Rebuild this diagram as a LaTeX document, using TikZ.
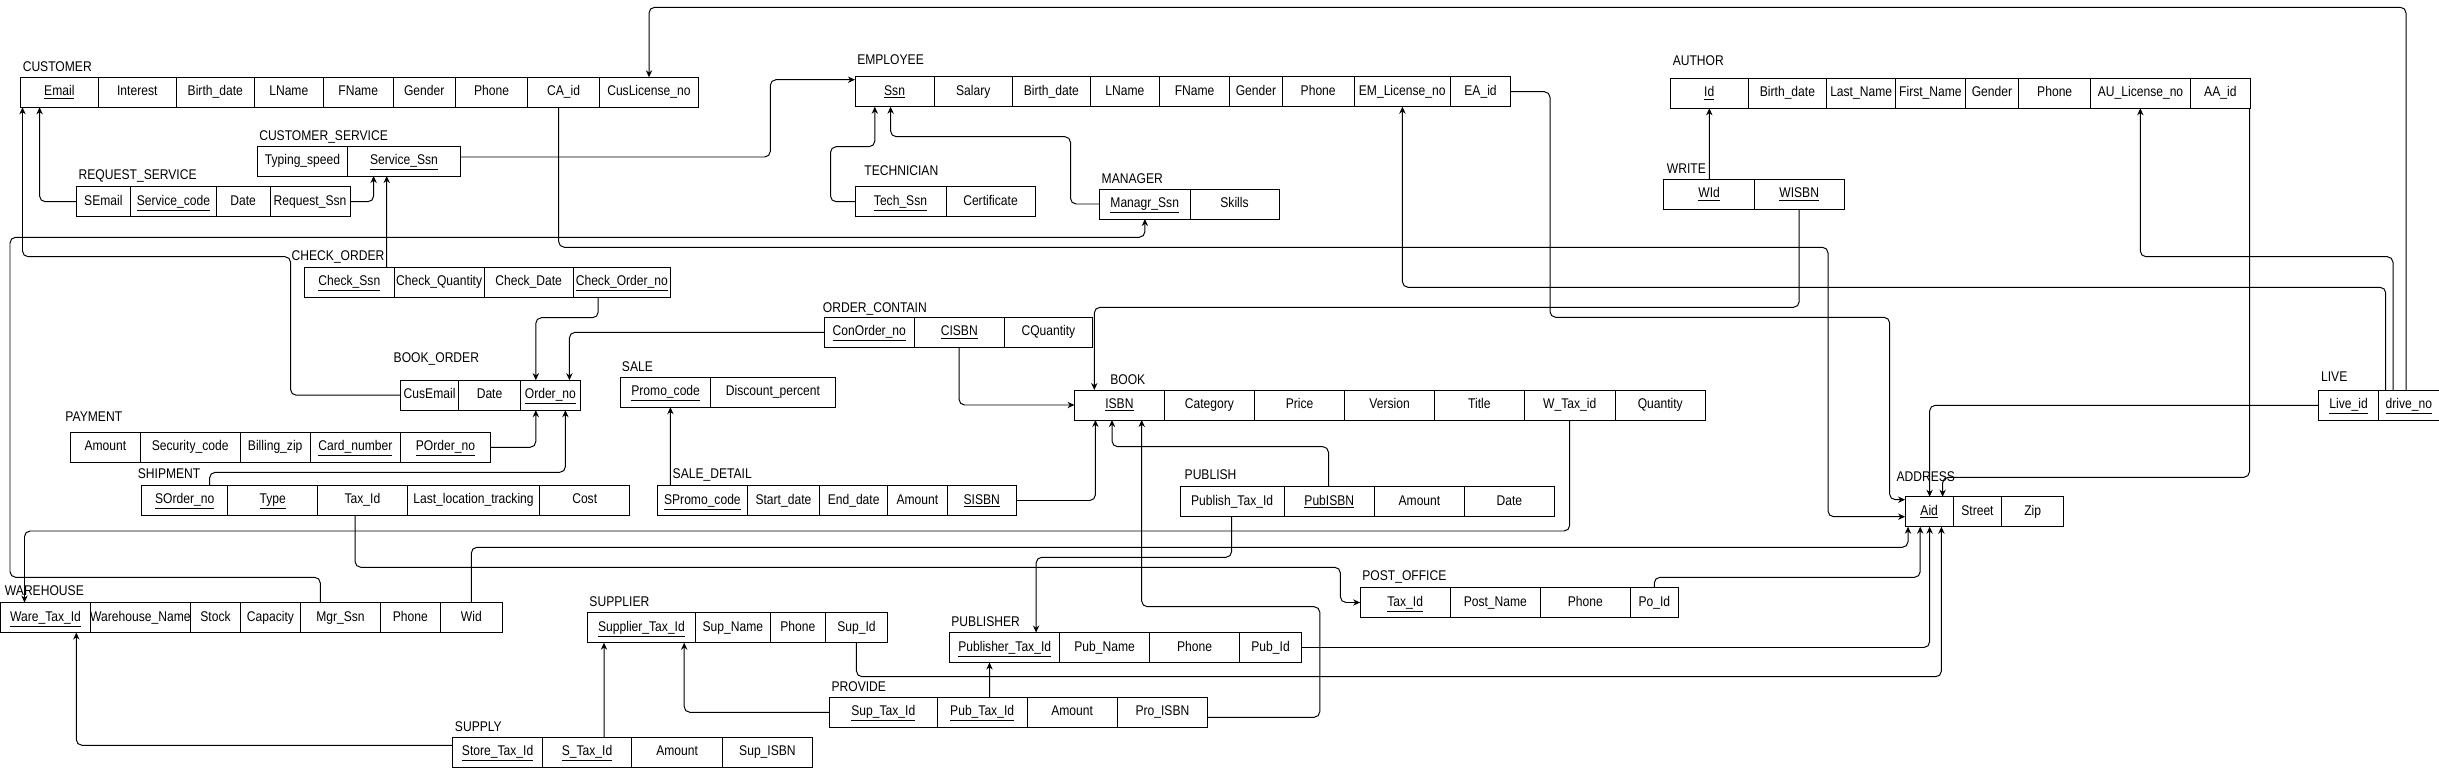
\documentclass[tikz,border=0pt]{standalone}
\usepackage{fontspec}
\setmainfont[FakeStretch=0.86]{Liberation Sans}
\usetikzlibrary{positioning,calc,arrows.meta}

\begin{document}
\begin{tikzpicture}[x=0.025cm, y=-0.025cm, node distance=0pt,
	cell/.style={draw, line width=0.7pt, outer sep=0pt, inner sep=0pt, minimum height=0.75cm, text height=7pt, text depth=2pt},
	cw/.style={minimum width=#1*0.025cm},
	tname/.style={anchor=west, inner sep=0pt},
	fk/.style={-{Stealth[length=5pt,width=4.5pt]}, line width=0.7pt, rounded corners=4pt}]
	\useasboundingbox (0,0) rectangle (2439,768);

	% CUSTOMER
	\node[tname] (tcustomer) at (22.5,66.7) {CUSTOMER};
	\node[cell, cw=77.5, anchor=west] (cemail) at (20.6,92.3) {\underline{Email}};
	\node[cell, cw=78.3, right=of cemail] (cinterest) {Interest};
	\node[cell, cw=77.8, right=of cinterest] (cbirth) {Birth\_date};
	\node[cell, cw=69.2, right=of cbirth] (clname) {LName};
	\node[cell, cw=69.6, right=of clname] (cfname) {FName};
	\node[cell, cw=62.5, right=of cfname] (cgender) {Gender};
	\node[cell, cw=72, right=of cgender] (cphone) {Phone};
	\node[cell, cw=72.3, right=of cphone] (caid) {CA\_id};
	\node[cell, cw=98.3, right=of caid] (ccuslic) {CusLicense\_no};

	% CUSTOMER_SERVICE
	\node[tname] (tcustserv) at (259,136.7) {CUSTOMER\_SERVICE};
	\node[cell, cw=90.2, anchor=west] (cstyping) at (257.4,161) {Typing\_speed};
	\node[cell, cw=112.7, right=of cstyping] (csssn) {\underline{Service\_Ssn}};

	% REQUEST_SERVICE
	\node[tname] (treq) at (78.3,175.7) {REQUEST\_SERVICE};
	\node[cell, cw=54.2, anchor=west] (rsemail) at (76.3,201.7) {SEmail};
	\node[cell, cw=85.8, right=of rsemail] (rscode) {\underline{Service\_code}};
	\node[cell, cw=53.8, right=of rscode] (rsdate) {Date};
	\node[cell, cw=79.9, right=of rsdate] (rsssn) {Request\_Ssn};

	% EMPLOYEE
	\node[tname] (temployee) at (857,60) {EMPLOYEE};
	\node[cell, cw=79.1, anchor=west] (essn) at (855,91.7) {\underline{Ssn}};
	\node[cell, cw=78.3, right=of essn] (esalary) {Salary};
	\node[cell, cw=77.9, right=of esalary] (ebirth) {Birth\_date};
	\node[cell, cw=69.2, right=of ebirth] (elname) {LName};
	\node[cell, cw=70.2, right=of elname] (efname) {FName};
	\node[cell, cw=52.5, right=of efname] (egender) {Gender};
	\node[cell, cw=72, right=of egender] (ephone) {Phone};
	\node[cell, cw=96.1, right=of ephone] (emlic) {EM\_License\_no};
	\node[cell, cw=60.5, right=of emlic] (eaid) {EA\_id};

	% TECHNICIAN
	\node[tname] (ttech) at (864.1,170.7) {TECHNICIAN};
	\node[cell, cw=91, anchor=west] (tssn) at (855,201.7) {\underline{Tech\_Ssn}};
	\node[cell, cw=89, right=of tssn] (tcert) {Certificate};

	% MANAGER
	\node[tname] (tmanager) at (1101.4,179) {MANAGER};
	\node[cell, cw=90.6, anchor=west] (mssn) at (1099.4,204) {\underline{Managr\_Ssn}};
	\node[cell, cw=89, right=of mssn] (mskills) {Skills};

	% AUTHOR
	\node[tname] (tauthor) at (1672.5,60.7) {AUTHOR};
	\node[cell, cw=78.3, anchor=west] (auid) at (1670.1,93.3) {\underline{Id}};
	\node[cell, cw=78.1, right=of auid] (abirth) {Birth\_date};
	\node[cell, cw=69.3, right=of abirth] (alast) {Last\_Name};
	\node[cell, cw=69.2, right=of alast] (afirst) {First\_Name};
	\node[cell, cw=53.8, right=of afirst] (agender) {Gender};
	\node[cell, cw=71.8, right=of agender] (aphone) {Phone};
	\node[cell, cw=99.8, right=of aphone] (aulic) {AU\_License\_no};
	\node[cell, cw=59.9, right=of aulic] (aaid) {AA\_id};

	% WRITE
	\node[tname] (twrite) at (1666.6,168.3) {WRITE};
	\node[cell, cw=90.6, anchor=west] (wwid) at (1663.8,194.3) {\underline{WId}};
	\node[cell, cw=89.6, right=of wwid] (wisbn) {\underline{WISBN}};

	% CHECK_ORDER
	\node[tname] (tcheck) at (291.4,256.7) {CHECK\_ORDER};
	\node[cell, cw=89.7, anchor=west] (kssn) at (304.5,282.3) {\underline{Check\_Ssn}};
	\node[cell, cw=89.8, right=of kssn] (kqty) {Check\_Quantity};
	\node[cell, cw=89.3, right=of kqty] (kdate) {Check\_Date};
	\node[cell, cw=97.1, right=of kdate] (korder) {\underline{Check\_Order\_no}};

	% ORDER_CONTAIN
	\node[tname] (tcontain) at (822.6,309.3) {ORDER\_CONTAIN};
	\node[cell, cw=90.2, anchor=west] (oorder) at (824.2,332.3) {\underline{ConOrder\_no}};
	\node[cell, cw=89.7, right=of oorder] (oisbn) {\underline{CISBN}};
	\node[cell, cw=88.6, right=of oisbn] (oqty) {CQuantity};

	% BOOK_ORDER
	\node[tname] (tbookorder) at (393.4,359) {BOOK\_ORDER};
	\node[cell, cw=58.2, anchor=west] (bcusemail) at (400.5,395.2) {CusEmail};
	\node[cell, cw=61.7, right=of bcusemail] (bdate) {Date};
	\node[cell, cw=60, right=of bdate] (borderno) {\underline{Order\_no}};

	% SALE
	\node[tname] (tsale) at (621.7,366.7) {SALE};
	\node[cell, cw=90.1, anchor=west] (spromo) at (620.6,392.2) {\underline{Promo\_code}};
	\node[cell, cw=124.6, right=of spromo] (sdisc) {Discount\_percent};

	% BOOK
	\node[tname] (tbook) at (1110,380) {BOOK};
	\node[cell, cw=89.8, anchor=west] (bkisbn) at (1074.5,405) {\underline{ISBN}};
	\node[cell, cw=90.3, right=of bkisbn] (bkcat) {Category};
	\node[cell, cw=90.1, right=of bkcat] (bkprice) {Price};
	\node[cell, cw=89.8, right=of bkprice] (bkversion) {Version};
	\node[cell, cw=89.7, right=of bkversion] (bktitle) {Title};
	\node[cell, cw=91, right=of bktitle] (bkwtax) {W\_Tax\_id};
	\node[cell, cw=90.1, right=of bkwtax] (bkqty) {Quantity};

	% PAYMENT
	\node[tname] (tpayment) at (65.2,416.7) {PAYMENT};
	\node[cell, cw=70, anchor=west] (pamount) at (70.4,447.3) {Amount};
	\node[cell, cw=99.6, right=of pamount] (psec) {Security\_code};
	\node[cell, cw=70.4, right=of psec] (pzip) {Billing\_zip};
	\node[cell, cw=90.1, right=of pzip] (pcard) {\underline{Card\_number}};
	\node[cell, cw=89.8, right=of pcard] (porder) {\underline{POrder\_no}};

	% SHIPMENT
	\node[tname] (tship) at (137.6,474) {SHIPMENT};
	\node[cell, cw=86.2, anchor=west] (shorder) at (141.6,500) {\underline{SOrder\_no}};
	\node[cell, cw=89.7, right=of shorder] (shtype) {\underline{Type}};
	\node[cell, cw=89.8, right=of shtype] (shtax) {Tax\_Id};
	\node[cell, cw=132.4, right=of shtax] (shtrack) {Last\_location\_tracking};
	\node[cell, cw=90, right=of shtrack] (shcost) {Cost};

	% SALE_DETAIL
	\node[tname] (tsaledetail) at (672.4,475) {SALE\_DETAIL};
	\node[cell, cw=89.4, anchor=west] (sdpromo) at (657.7,500.5) {\underline{SPromo\_code}};
	\node[cell, cw=72.7, right=of sdpromo] (sdstart) {Start\_date};
	\node[cell, cw=67.7, right=of sdstart] (sdend) {End\_date};
	\node[cell, cw=59.7, right=of sdend] (sdamount) {Amount};
	\node[cell, cw=69.2, right=of sdamount] (sdisbn) {\underline{SISBN}};

	% PUBLISH
	\node[tname] (tpublish) at (1184.4,475) {PUBLISH};
	\node[cell, cw=104.2, anchor=west] (plitax) at (1180,501.7) {Publish\_Tax\_Id};
	\node[cell, cw=90.2, right=of plitax] (plisbn) {\underline{PubISBN}};
	\node[cell, cw=90.1, right=of plisbn] (pliamount) {Amount};
	\node[cell, cw=89.8, right=of pliamount] (plidate) {Date};

	% LIVE
	\node[tname] (tlive) at (2320.8,376.7) {LIVE};
	\node[cell, cw=60.3, anchor=west] (lid) at (2318.4,405.3) {\underline{Live\_id}};
	\node[cell, cw=60.3, right=of lid] (ldrive) {\underline{drive\_no}};

	% ADDRESS
	\node[tname] (taddress) at (1896.2,476.7) {ADDRESS};
	\node[cell, cw=48.1, anchor=west] (adaid) at (1905.1,511.7) {\underline{Aid}};
	\node[cell, cw=48.5, right=of adaid] (adstreet) {Street};
	\node[cell, cw=62, right=of adstreet] (adzip) {Zip};

	% POST_OFFICE
	\node[tname] (tpost) at (1362.1,576.7) {POST\_OFFICE};
	\node[cell, cw=90.2, anchor=west] (potax) at (1360.1,602.5) {\underline{Tax\_Id}};
	\node[cell, cw=90.1, right=of potax] (poname) {Post\_Name};
	\node[cell, cw=89.8, right=of poname] (pophone) {Phone};
	\node[cell, cw=48.2, right=of pophone] (poid) {Po\_Id};

	% WAREHOUSE
	\node[tname] (twarehouse) at (4.7,590.7) {WAREHOUSE};
	\node[cell, cw=89.4, anchor=west] (htax) at (0.8,617.5) {\underline{Ware\_Tax\_Id}};
	\node[cell, cw=100.4, right=of htax] (hname) {Warehouse\_Name};
	\node[cell, cw=49.8, right=of hname] (hstock) {Stock};
	\node[cell, cw=60.1, right=of hstock] (hcap) {Capacity};
	\node[cell, cw=79.9, right=of hcap] (hmgr) {Mgr\_Ssn};
	\node[cell, cw=59.7, right=of hmgr] (hphone) {Phone};
	\node[cell, cw=62.5, right=of hphone] (hwid) {Wid};

	% SUPPLIER
	\node[tname] (tsupplier) at (589.2,601.7) {SUPPLIER};
	\node[cell, cw=107.7, anchor=west] (sutax) at (587.6,627.7) {\underline{Supplier\_Tax\_Id}};
	\node[cell, cw=75.1, right=of sutax] (suname) {Sup\_Name};
	\node[cell, cw=55, right=of suname] (suphone) {Phone};
	\node[cell, cw=62.1, right=of suphone] (suid) {Sup\_Id};

	% PUBLISHER
	\node[tname] (tpublisher) at (951.1,621.7) {PUBLISHER};
	\node[cell, cw=109.6, anchor=west] (pbtax) at (949.9,647.5) {\underline{Publisher\_Tax\_Id}};
	\node[cell, cw=90.1, right=of pbtax] (pbname) {Pub\_Name};
	\node[cell, cw=89.9, right=of pbname] (pbphone) {Phone};
	\node[cell, cw=62.1, right=of pbphone] (pbid) {Pub\_Id};

	% PROVIDE
	\node[tname] (tprovide) at (831.3,686.7) {PROVIDE};
	\node[cell, cw=108, anchor=west] (prsup) at (829.3,712.3) {\underline{Sup\_Tax\_Id}};
	\node[cell, cw=89.7, right=of prsup] (prpub) {\underline{Pub\_Tax\_Id}};
	\node[cell, cw=90.2, right=of prpub] (pramount) {Amount};
	\node[cell, cw=90.5, right=of pramount] (prisbn) {Pro\_ISBN};

	% SUPPLY
	\node[tname] (tsupply) at (454.7,726.7) {SUPPLY};
	\node[cell, cw=89.8, anchor=west] (systore) at (452.7,752.3) {\underline{Store\_Tax\_Id}};
	\node[cell, cw=89.1, right=of systore] (systax) {\underline{S\_Tax\_Id}};
	\node[cell, cw=91, right=of systax] (syamount) {Amount};
	\node[cell, cw=89.7, right=of syamount] (syisbn) {Sup\_ISBN};

	% foreign keys
	\draw[fk] (rsemail.west) -| ($(cemail.south west)+(19,0)$);
	\draw[fk] (rsssn.east) -| ($(csssn.south west)+(26,0)$);
	\draw[fk] ($(kssn.north west)+(82.2,0)$) -- ($(csssn.south west)+(39.1,0)$);
	\draw[fk] ($(csssn.east)+(0,-4)$) -- ++(310,0) |- ($(essn.north west)+(0,3)$);
	\draw[fk] (tssn.west) -- ++(-24.5,0) |- (874.8,146.7) -- ($(essn.south west)+(19.8,0)$);
	\draw[fk] (mssn.west) -- ++(-28.9,0) |- (890.6,136.7) -- ($(essn.south west)+(35.6,0)$);
	\draw[fk] ($(hmgr.north west)+(19.8,0)$) |- (10,577.3) -- (10,237.3) -| ($(mssn.south west)+(45.5,0)$);
	\draw[fk] (bcusemail.west) -| (290.6,256.7) -| ($(cemail.south west)+(1.9,0)$);
	\draw[fk] ($(caid.south west)+(31.2,0)$) |- (1828,247.3) |- ($(adaid.west)+(0,5)$);
	\draw[fk] (eaid.east) -| (1550,317.3) -| (1889.6,450) |- ($(adaid.north west)+(0,3)$);
	\draw[fk] ($(ldrive.north west)+(7,0)$) |- (1402.4,287.3) -- ($(emlic.south west)+(48.2,0)$);
	\draw[fk] ($(ldrive.north west)+(14.3,0)$) |- (2140.3,256.7) -- ($(aulic.south west)+(49.7,0)$);
	\draw[fk] ($(ldrive.north west)+(27.3,0)$) |- (649,7.3) -- ($(ccuslic.north west)+(49.2,0)$);
	\draw[fk] (lid.west) -| ($(adaid.north west)+(24.5,0)$);
	\draw[fk] ($(aaid.south east)+(-0.8,0)$) |- (1942.6,477.3) -- ($(adaid.north west)+(37.5,0)$);
	\draw[fk] ($(wwid.north west)+(45.5,0)$) -- ($(auid.south west)+(39.2,0)$);
	\draw[fk] (wisbn.south) |- (1094.3,307.3) -- ($(bkisbn.north west)+(19.8,0)$);
	\draw[fk] ($(oisbn.south west)+(44.6,0)$) |- (bkisbn.west);
	\draw[fk] (oorder.west) -| ($(borderno.north west)+(49,0)$);
	\draw[fk] ($(korder.south west)+(24.9,0)$) |- (535.8,317.7) -- ($(borderno.north west)+(15.4,0)$);
	\draw[fk] (porder.east) -| ($(borderno.south west)+(15.4,0)$);
	\draw[fk] ($(shorder.north west)+(68,0)$) |- (565.4,472.3) -- ($(borderno.south west)+(45,0)$);
	\draw[fk] ($(shtax.south west)+(37.6,0)$) |- (1340.4,567.3) |- (potax.west);
	\draw[fk] ($(bkwtax.south west)+(45.5,0)$) |- (24.5,531) -- ($(htax.north west)+(23.7,0)$);
	\draw[fk] (hwid.north) |- (1908,547.3) -- ($(adaid.south west)+(2.9,0)$);
	\draw[fk] (poid.north) |- (1920.2,577.3) -- ($(adaid.south west)+(15.1,0)$);
	\draw[fk] (pbid.east) -| ($(adaid.south west)+(24.5,0)$);
	\draw[fk] (suid.south) |- (1941.4,676.7) -- ($(adaid.south west)+(36.3,0)$);
	\draw[fk] ($(plitax.south west)+(51.6,0)$) |- (1036.1,557.3) -- ($(pbtax.north west)+(86.2,0)$);
	\draw[fk] ($(plisbn.north west)+(44.3,0)$) |- (1112,446.7) -- ($(bkisbn.south west)+(37.5,0)$);
	\draw[fk] ($(prisbn.east)+(0,5)$) -| (1319.8,606.7) -| ($(bkisbn.south west)+(67.2,0)$);
	\draw[fk] ($(prpub.north west)+(52.2,0)$) -- ($(pbtax.south west)+(39.6,0)$);
	\draw[fk] (prsup.west) -| ($(sutax.south west)+(96.6,0)$);
	\draw[fk] ($(systax.north west)+(61.5,0)$) -- ($(sutax.south west)+(16.4,0)$);
	\draw[fk] ($(systore.west)+(0,-7)$) -| ($(htax.south west)+(75.5,0)$);
	\draw[fk] ($(sdpromo.north west)+(12.7,0)$) -- ($(spromo.south west)+(49.8,0)$);
	\draw[fk] (sdisbn.east) -| ($(bkisbn.south west)+(20.9,0)$);
\end{tikzpicture}
\end{document}
